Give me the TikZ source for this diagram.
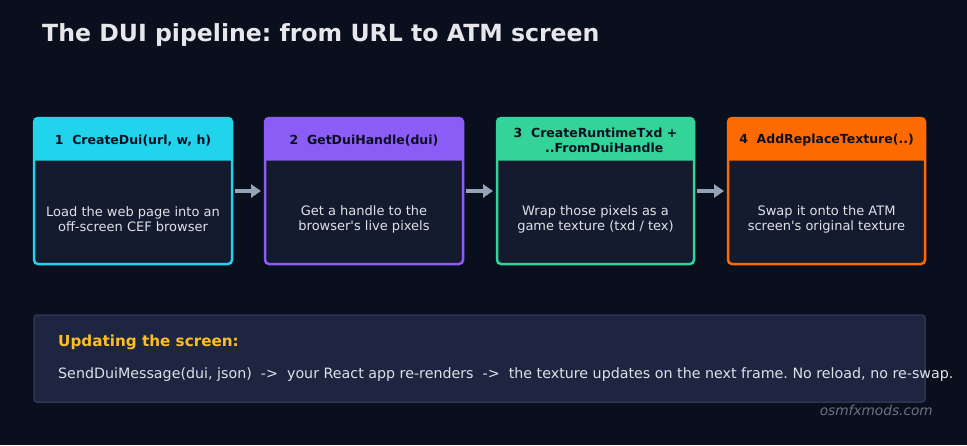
\documentclass[tikz,border=0pt]{standalone}
\usepackage{fontspec}
\setmainfont{DejaVu Sans}
\usetikzlibrary{arrows.meta}
\definecolor{bg}{HTML}{0A0F1E}
\definecolor{bodyfill}{HTML}{151B2E}
\definecolor{cyanc}{HTML}{22D3EE}
\definecolor{purplec}{HTML}{8B5CF6}
\definecolor{greenc}{HTML}{34D399}
\definecolor{orangec}{HTML}{FF6A00}
\definecolor{titlec}{HTML}{E5E7EB}
\definecolor{bodytext}{HTML}{DDE1E8}
\definecolor{headtext}{HTML}{0B1020}
\definecolor{arrowc}{HTML}{94A3B8}
\definecolor{notefill}{HTML}{1E2540}
\definecolor{noteborder}{HTML}{2D3553}
\definecolor{yellowc}{HTML}{FBBF24}
\definecolor{markc}{HTML}{6B7280}
\tikzset{
  headtxt/.style={font=\bfseries\fontsize{12.5}{15}\selectfont, text=headtext, align=center, inner sep=0pt},
  bodytxt/.style={font=\fontsize{13}{15}\selectfont, text=bodytext, align=center, inner sep=0pt},
  flowarrow/.style={draw=arrowc, line width=3.5pt, -{Triangle[length=10pt,width=13pt]}}
}
\newcommand{\stepcard}[5]{%
  \fill[bodyfill, rounded corners=4pt] (#1,118) rectangle (#2,264);
  \fill[#3, rounded corners=4pt] (#1,118) rectangle (#2,140);
  \fill[#3] (#1,130) rectangle (#2,160);
  \draw[#3!70!black, line width=1pt] (#1,160) -- (#2,160);
  \draw[#3, line width=2.5pt, rounded corners=4pt] (#1,118) rectangle (#2,264);
  \coordinate (#4w) at (#1,191);
  \coordinate (#4e) at (#2,191);
  \node[headtxt] (#4h) at ({(#1+#2)/2},140.5) {#5};
}
\begin{document}
\frenchspacing
\begin{tikzpicture}[x=1pt,y=-1pt]
\fill[bg] (0,0) rectangle (967,445);
\useasboundingbox (0,0) rectangle (967,445);
\node[anchor=west, font=\bfseries\fontsize{23.6}{26}\selectfont, text=titlec, inner sep=0pt] (title) at (42,35) {The DUI pipeline: from URL to ATM screen};
\stepcard{34}{232}{cyanc}{a}{1\ \ CreateDui(url, w, h)}
\node[bodytxt] (ab) at (133,219) {Load the web page into an\\off-screen CEF browser};
\stepcard{265}{463}{purplec}{b}{2\ \ GetDuiHandle(dui)}
\node[bodytxt] (bb) at (364,219) {Get a handle to the\\browser\textquotesingle s live pixels};
\stepcard{497}{694}{greenc}{c}{3\ \ CreateRuntimeTxd +\\\ \ \ \ ..FromDuiHandle}
\node[bodytxt] (cb) at (595.5,219) {Wrap those pixels as a\\game texture (txd / tex)};
\stepcard{728}{925}{orangec}{d}{4\ \ AddReplaceTexture(..)}
\node[bodytxt] (db) at (826.5,219) {Swap it onto the ATM\\screen\textquotesingle s original texture};
\draw[flowarrow] ([xshift=3pt]ae) -- ([xshift=-4pt]bw);
\draw[flowarrow] ([xshift=3pt]be) -- ([xshift=-4pt]cw);
\draw[flowarrow] ([xshift=3pt]ce) -- ([xshift=-4pt]dw);
\draw[fill=notefill, draw=noteborder, line width=1.5pt, rounded corners=3pt] (34,315) rectangle (925,402);
\node[anchor=west, font=\bfseries\fontsize{15.2}{17}\selectfont, text=yellowc, inner sep=0pt] (nh) at (58,342) {Updating the screen:};
\node[anchor=west, font=\fontsize{14.25}{17}\selectfont, text=bodytext, inner sep=0pt] (nb) at (58,375) {SendDuiMessage(dui, json)\ \ ->\ \ your React app re-renders\ \ ->\ \ the texture updates on the next frame. No reload, no re-swap.};
\node[anchor=east, font=\itshape\fontsize{13.7}{16}\selectfont, text=markc, inner sep=0pt] (mark) at (933,410) {osmfxmods.com};
\end{tikzpicture}
\end{document}
